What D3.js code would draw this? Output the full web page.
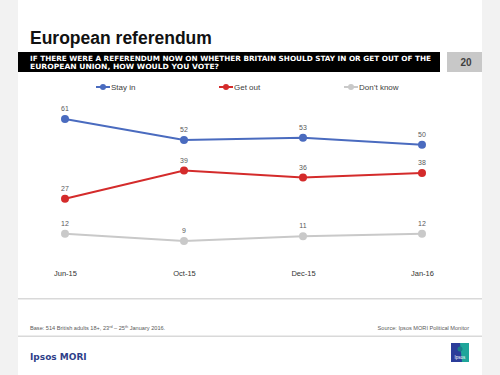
<!DOCTYPE html>
<html><head><meta charset="utf-8">
<script src="https://cdn.jsdelivr.net/npm/d3@7"></script>
<style>body{margin:0;background:#f2f2f2;}svg{display:block;}</style>
</head><body>
<script>
const months = ["Jun-15","Oct-15","Dec-15","Jan-16"];
const stayIn = [61,52,53,50];
const getOut = [27,39,36,38];
const dontKnow = [12,9,11,12];
const seriesNames = ["Stay in","Get out","Don\u2019t know"];
const seriesColors = ["#4a6bbf","#d42b2b","#c9c9c9"];

const W=500,H=375;
const svg=d3.select("body").append("svg").attr("width",W).attr("height",H);
svg.append("rect").attr("width",W).attr("height",H).attr("fill","#f2f2f2");
svg.append("rect").attr("x",18).attr("y",0).attr("width",464).attr("height",H).attr("fill","#fff");

svg.append("text").attr("x",30).attr("y",44).attr("font-family","Liberation Sans").attr("font-weight","bold")
  .attr("font-size",17.5).attr("fill","#111").text("European referendum");

svg.append("rect").attr("x",18).attr("y",52).attr("width",422).attr("height",20).attr("fill","#000");
const q=svg.append("text").attr("font-family","DejaVu Sans").attr("font-weight","bold").attr("font-size",7.2).attr("fill","#fff");
q.append("tspan").attr("x",30).attr("y",60.5).attr("textLength",401).attr("lengthAdjust","spacingAndGlyphs").text("IF THERE WERE A REFERENDUM NOW ON WHETHER BRITAIN SHOULD STAY IN OR GET OUT OF THE");
q.append("tspan").attr("x",30).attr("y",69).attr("textLength",189).attr("lengthAdjust","spacingAndGlyphs").text("EUROPEAN UNION, HOW WOULD YOU VOTE?");
svg.append("rect").attr("x",447).attr("y",52).attr("width",35).attr("height",20).attr("fill","#c8c8c8");
svg.append("text").attr("x",466).attr("y",66).attr("text-anchor","middle").attr("font-family","Liberation Sans").attr("font-weight","bold").attr("font-size",10).attr("fill","#404040").text("20");

const x=d3.scalePoint().domain(months).range([65,422]);
const y=d3.scaleLinear().domain([0,61]).range([262,119]);

const data=[stayIn,getOut,dontKnow];
const legendX=[96,219,344];
data.forEach((vals,i)=>{
  const c=seriesColors[i];
  const g=svg.append("g");
  g.append("path").datum(vals).attr("fill","none").attr("stroke",c).attr("stroke-width",2)
    .attr("d",d3.line().x((d,j)=>x(months[j])).y(d=>y(d)));
  g.selectAll("circle").data(vals).join("circle").attr("cx",(d,j)=>x(months[j])).attr("cy",d=>y(d)).attr("r",4).attr("fill",c);
  g.selectAll("text").data(vals).join("text").attr("x",(d,j)=>x(months[j])).attr("y",d=>y(d)-8)
    .attr("text-anchor","middle").attr("font-family","Liberation Sans").attr("font-size",7).attr("fill","#595959").text(d=>d);
  const lx=legendX[i];
  svg.append("line").attr("x1",lx).attr("x2",lx+14).attr("y1",87).attr("y2",87).attr("stroke",c).attr("stroke-width",2);
  svg.append("circle").attr("cx",lx+7).attr("cy",87).attr("r",3).attr("fill",c);
  svg.append("text").attr("x",lx+15).attr("y",90).attr("font-family","Liberation Sans").attr("font-size",8).attr("fill","#404040").text(seriesNames[i]);
});

const xa=svg.append("g").attr("transform","translate(0,262)").call(d3.axisBottom(x).tickSize(0).tickPadding(9));
xa.select(".domain").remove();
xa.selectAll("text").attr("font-family","Liberation Sans").attr("font-size",7.5).attr("fill","#333");

svg.append("rect").attr("x",18).attr("y",298).attr("width",464).attr("height",1.5).attr("fill","#d9d9d9");
svg.append("rect").attr("x",18).attr("y",335.5).attr("width",464).attr("height",1.5).attr("fill","#d9d9d9");

const b=svg.append("text").attr("x",30).attr("y",330).attr("font-family","Liberation Sans").attr("font-size",5.6).attr("fill","#595959");
b.append("tspan").text("Base: 514  British adults 18+, 23");
b.append("tspan").attr("font-size",3.8).attr("dy",-1.8).text("rd");
b.append("tspan").attr("dy",1.8).text(" \u2013 25");
b.append("tspan").attr("font-size",3.8).attr("dy",-1.8).text("th");
b.append("tspan").attr("dy",1.8).text(" January 2016.");
svg.append("text").attr("x",469).attr("y",330).attr("text-anchor","end").attr("font-family","Liberation Sans").attr("font-size",5.6).attr("fill","#595959").text("Source: Ipsos MORI Political Monitor");

svg.append("text").attr("x",30).attr("y",360).attr("font-family","DejaVu Sans").attr("font-weight","bold").attr("font-size",9).attr("fill","#2f3f8a").text("Ipsos MORI");
const lg=svg.append("g");
lg.append("rect").attr("x",451).attr("y",343).attr("width",18).attr("height",19).attr("fill","#2b3d9a");
lg.append("path").attr("d","M460,343 L469,343 L469,362 L462,362 Z").attr("fill","#1fa59a");
lg.append("circle").attr("cx",460).attr("cy",349).attr("r",2.5).attr("fill","#1a7f8a");
lg.append("text").attr("x",460).attr("y",359).attr("text-anchor","middle").attr("font-family","Liberation Sans").attr("font-size",4.5).attr("fill","#fff").text("Ipsos");
</script>
</body></html>
